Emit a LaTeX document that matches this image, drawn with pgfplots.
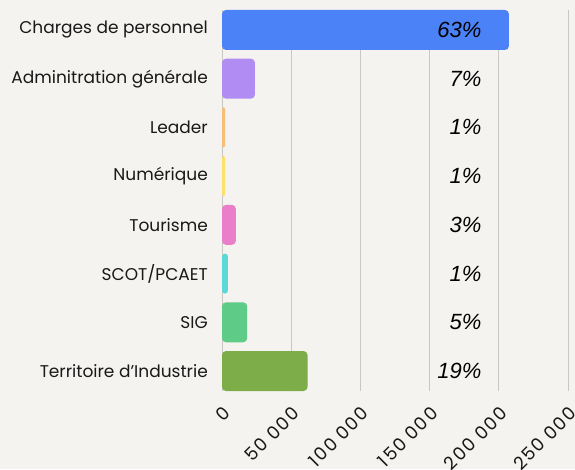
\documentclass[border=0pt]{standalone}
\usepackage{pgfplots}
\pgfplotsset{compat=1.18}
\usepackage{fontspec}
\setmainfont{Poppins}
\newfontfamily\tickfont[LetterSpace=9]{Poppins}
\newfontfamily\pctfont{Liberation Sans}
\definecolor{bg}{HTML}{F5F3EF}
\definecolor{c1}{HTML}{4C82F7}
\definecolor{c2}{HTML}{B18CF2}
\definecolor{c3}{HTML}{F8BE78}
\definecolor{c4}{HTML}{FDE06A}
\definecolor{c5}{HTML}{EA7EC8}
\definecolor{c6}{HTML}{5DD8D8}
\definecolor{c7}{HTML}{5ECB86}
\definecolor{c8}{HTML}{7DAD48}
\definecolor{gridc}{HTML}{C9C7C3}
\begin{document}
\begin{tikzpicture}[x=1pt,y=1pt]
\fill[bg] (0,0) rectangle (575,469);
\useasboundingbox (0,0) rectangle (575,469);
\begin{axis}[
  at={(222pt,78pt)}, anchor=south west,
  scale only axis, width=346pt, height=381pt,
  xmin=0, xmax=250000, ymin=-0.41, ymax=7.41,
  xtick={0,50000,100000,150000,200000,250000},
  xticklabels={0,50 000,100 000,150 000,200 000,250 000},
  scaled x ticks=false,
  ytick={0,1,2,3,4,5,6,7},
  yticklabels={Territoire d'Industrie,SIG,SCOT/PCAET,Tourisme,Numérique,Leader,Adminitration générale,Charges de personnel},
  xmajorgrids, grid style={draw=gridc, line width=0.9pt},
  axis line style={draw=none}, major tick length=0pt,
  yticklabel style={anchor=east, inner sep=0pt, xshift=-14pt, font=\fontsize{17}{17}\selectfont, text=black!90},
  xticklabel style={rotate=45, anchor=east, inner sep=0pt, xshift=-10pt, yshift=-17pt, font=\tickfont\fontsize{18}{18}\selectfont, text=black!90},
  clip=false,
]
\addplot[xbar, bar width=40pt, bar shift=0pt, fill=c1, draw=none, rounded corners=4pt] coordinates {(207300,7)};
\addplot[xbar, bar width=40pt, bar shift=0pt, fill=c2, draw=none, rounded corners=4pt] coordinates {(23800,6)};
\addplot[xbar, bar width=40pt, bar shift=0pt, fill=c3, draw=none, rounded corners=2pt] coordinates {(2300,5)};
\addplot[xbar, bar width=40pt, bar shift=0pt, fill=c4, draw=none, rounded corners=2pt] coordinates {(2300,4)};
\addplot[xbar, bar width=40pt, bar shift=0pt, fill=c5, draw=none, rounded corners=4pt] coordinates {(10000,3)};
\addplot[xbar, bar width=40pt, bar shift=0pt, fill=c6, draw=none, rounded corners=3pt] coordinates {(4300,2)};
\addplot[xbar, bar width=40pt, bar shift=0pt, fill=c7, draw=none, rounded corners=4pt] coordinates {(18200,1)};
\addplot[xbar, bar width=40pt, bar shift=0pt, fill=c8, draw=none, rounded corners=4pt] coordinates {(61800,0)};
\addplot[draw=none, mark=none, nodes near coords, point meta=explicit symbolic,
  every node near coord/.style={anchor=east, inner sep=0pt, text=black, font=\pctfont\itshape\fontsize{22}{22}\selectfont}]
  coordinates {(187600,7) [63\%] (187600,6) [7\%] (187600,5) [1\%] (187600,4) [1\%] (187600,3) [3\%] (187600,2) [1\%] (187600,1) [5\%] (187600,0) [19\%]};
\end{axis}
\end{tikzpicture}
\end{document}
